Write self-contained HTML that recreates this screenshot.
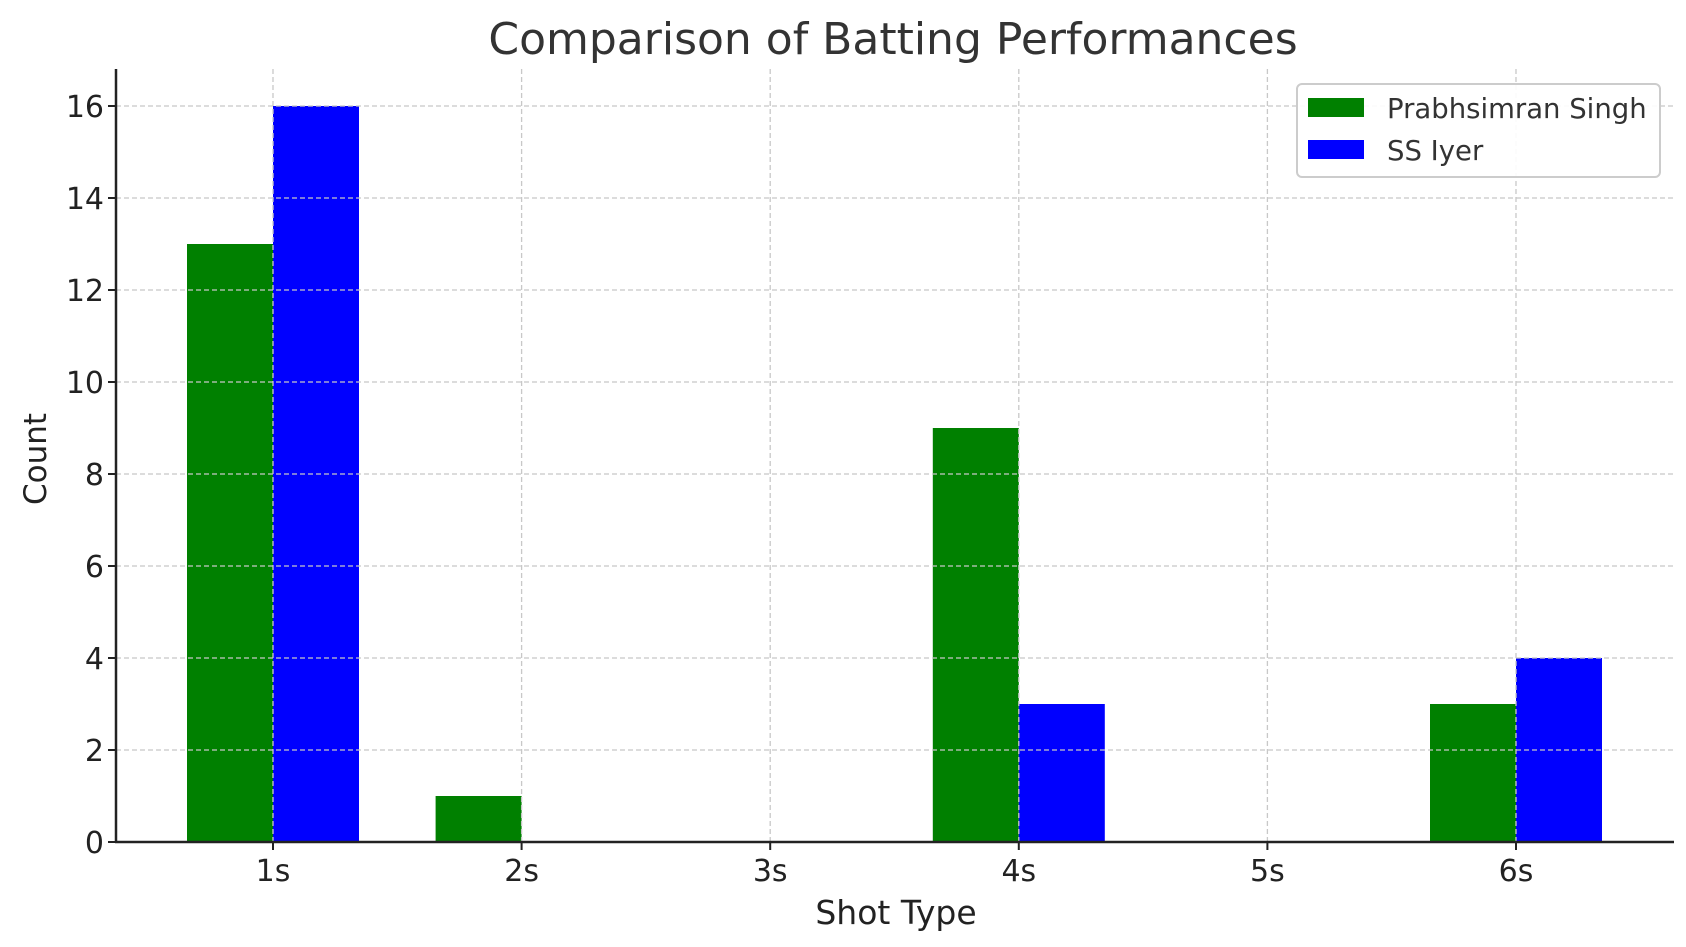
<!DOCTYPE html>
<html><head><meta charset="utf-8"><style>
html,body{margin:0;padding:0;background:#fff;}
svg{display:block;font-family:"DejaVu Sans","Liberation Sans",sans-serif;}
</style></head><body>
<svg id="chart" width="1686" height="947" viewBox="0 0 1686 947">
<text x="893" y="54" text-anchor="middle" font-size="44" fill="#333">Comparison of Batting Performances</text>
<g id="bars"></g>
<g id="grid"></g>
<g id="axes"></g>
<text x="896" y="924" text-anchor="middle" font-size="33" fill="#222">Shot Type</text>
<text transform="translate(46,459) rotate(-90)" text-anchor="middle" font-size="31" fill="#222">Count</text>
<g>
<rect x="1297" y="84" width="363" height="93" rx="5" fill="#fff" fill-opacity="0.9" stroke="#ccc" stroke-width="2"/>
<rect x="1308" y="98" width="56" height="19" fill="#008000"/>
<text x="1387" y="118" font-size="27.5" fill="#333">Prabhsimran Singh</text>
<rect x="1308" y="140" width="56" height="19" fill="#0000ff"/>
<text x="1387" y="160" font-size="27.5" fill="#333">SS Iyer</text>
</g>
</svg>
<script>
const categories = ["1s","2s","3s","4s","5s","6s"];
const prabhsimran = [13,1,0,9,0,3];
const iyer = [16,0,0,3,0,4];
const yTicks = [0,2,4,6,8,10,12,14,16];

const NS="http://www.w3.org/2000/svg";
const plotLeft=116,plotRight=1674,plotTop=69,plotBottom=842;
const x0=273, step=248.6, barW=86;
function xPos(i){return x0+i*step;}
function yPos(v){return plotBottom - v*46;}
function mk(tag,attrs,parent){const e=document.createElementNS(NS,tag);for(const k in attrs)e.setAttribute(k,attrs[k]);parent.appendChild(e);return e;}
const grid=document.getElementById('grid'),bars=document.getElementById('bars'),axes=document.getElementById('axes');
yTicks.forEach(t=>{
  const y=yPos(t);
  if(t>0){const l=mk('line',{x1:plotLeft,x2:plotRight,y1:y,y2:y,stroke:'#c8c8c8','stroke-width':1.3,'stroke-dasharray':'5,3'},grid);
  
  }
  const tk=mk('line',{x1:plotLeft-8,x2:plotLeft,y1:y,y2:y,stroke:'#222','stroke-width':2},axes);
  
  
  const tx=mk('text',{x:plotLeft-12,y:y+11,'text-anchor':'end','font-size':30,fill:'#222'},axes);
  tx.textContent=t;
  
  
});
categories.forEach((c,i)=>{
  const x=xPos(i);
  const g=mk('line',{x1:x,x2:x,y1:plotTop,y2:plotBottom,stroke:'#c8c8c8','stroke-width':1.3,'stroke-dasharray':'5,3'},grid);
  
  
  const b1=mk('rect',{x:x-barW,y:yPos(prabhsimran[i]),width:barW,height:plotBottom-yPos(prabhsimran[i]),fill:'#008000'},bars);
  
  
  const b2=mk('rect',{x:x,y:yPos(iyer[i]),width:barW,height:plotBottom-yPos(iyer[i]),fill:'#0000ff'},bars);
  
  
  const tk=mk('line',{x1:x,x2:x,y1:plotBottom,y2:plotBottom+8,stroke:'#222','stroke-width':2},axes);
  
  
  const tx=mk('text',{x:x,y:plotBottom+39,'text-anchor':'middle','font-size':30,fill:'#222'},axes);
  tx.textContent=c;
  
  
});
const la=mk('line',{x1:plotLeft,x2:plotLeft,y1:plotTop,y2:plotBottom+1,stroke:'#222','stroke-width':2.5},axes);


const ba=mk('line',{x1:plotLeft-1,x2:plotRight,y1:plotBottom,y2:plotBottom,stroke:'#222','stroke-width':2.5},axes);


</script>
</body></html>
